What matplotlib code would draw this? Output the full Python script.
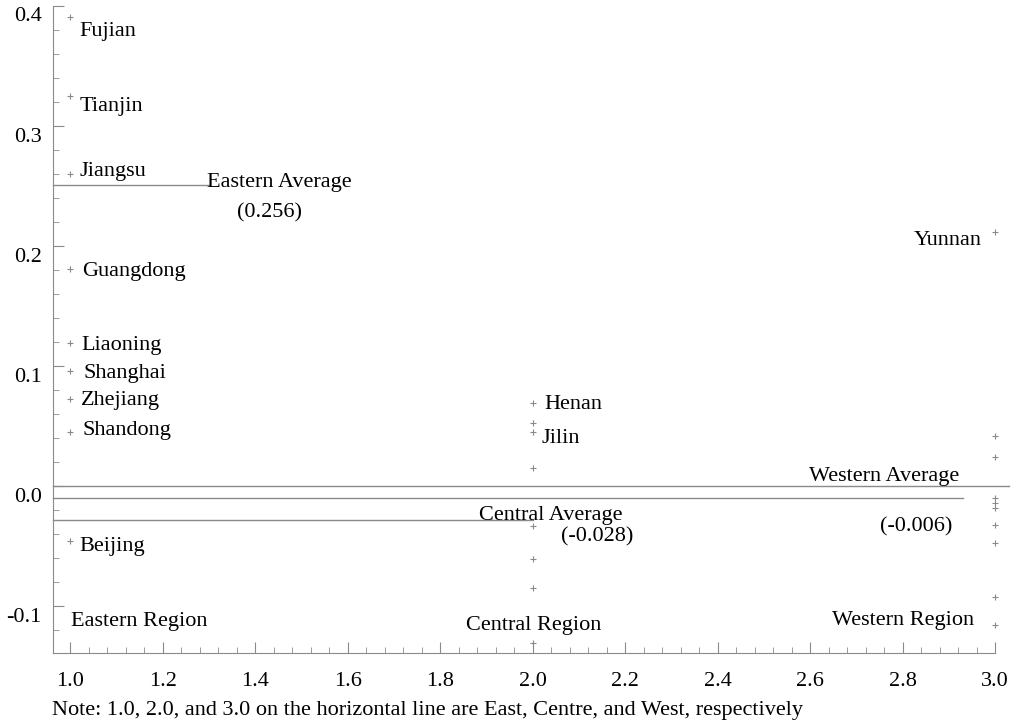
import numpy as np
import matplotlib
matplotlib.use("Agg")
import matplotlib.pyplot as plt
import matplotlib.transforms as mtransforms
from matplotlib.ticker import MultipleLocator

plt.rcParams["font.family"] = ["Liberation Serif", "DejaVu Serif"]

# region code: 1 = East, 2 = Centre, 3 = West
east_y = [0.391, 0.325, 0.260, 0.181, 0.119, 0.096, 0.0725, 0.045, -0.046]
central_y = [0.069, 0.0525, 0.045, 0.015, -0.033, -0.061, -0.085, -0.131]
west_y = [0.212, 0.0417, 0.024, -0.010, -0.014, -0.018, -0.032, -0.0475, -0.0925, -0.116]

east_names = ["Fujian", "Tianjin", "Jiangsu", "Guangdong", "Liaoning",
              "Shanghai", "Zhejiang", "Shandong", "Beijing"]
east_label_y = [0.379, 0.316, 0.2625, 0.179, 0.1175, 0.094, 0.0717, 0.0467, -0.050]
east_label_x = [1.02, 1.02, 1.02, 1.026, 1.024, 1.028, 1.024, 1.026, 1.02]

# average lines: (value, x start, x end)
avg_lines = [(0.251, 0.963, 1.30), (0.0, 0.963, 3.03), (-0.010, 0.963, 2.93), (-0.028, 0.963, 2.0)]

fig = plt.figure(figsize=(10.17, 7.22), dpi=100)
ax = fig.add_axes([0.0521, 0.0956, 0.9265, 0.8961])

gray = "#8a8a8a"
mk = dict(marker="+", linestyle="none", color=gray, markersize=5, markeredgewidth=0.8)
ax.plot([1.0] * len(east_y), east_y, **mk, clip_on=False)
ax.plot([2.0] * len(central_y), central_y, **mk, clip_on=False)
ax.plot([3.0] * len(west_y), west_y, **mk, clip_on=False)

for v, x0, x1 in avg_lines:
    ax.plot([x0, x1], [v, v], color=gray, lw=1.0, clip_on=False)

fs = 16
for name, x, y in zip(east_names, east_label_x, east_label_y):
    ax.text(x, y, name, fontsize=fs, ha="left", va="center")

ax.text(1.297, 0.253, "Eastern Average", fontsize=fs, ha="left", va="center")
ax.text(1.431, 0.2275, "(0.256)", fontsize=fs, ha="center", va="center")
ax.text(1.003, -0.113, "Eastern Region", fontsize=fs, ha="left", va="center")

ax.text(2.025, 0.068, "Henan", fontsize=fs, ha="left", va="center")
ax.text(2.02, 0.040, "Jilin", fontsize=fs, ha="left", va="center")
ax.text(2.04, -0.0245, "Central Average", fontsize=fs, ha="center", va="center")
ax.text(2.14, -0.0425, "(-0.028)", fontsize=fs, ha="center", va="center")
ax.text(2.003, -0.116, "Central Region", fontsize=fs, ha="center", va="center")

ax.text(2.97, 0.205, "Yunnan", fontsize=fs, ha="right", va="center")
ax.text(2.76, 0.0083, "Western Average", fontsize=fs, ha="center", va="center")
ax.text(2.83, -0.034, "(-0.006)", fontsize=fs, ha="center", va="center")
ax.text(2.80, -0.112, "Western Region", fontsize=fs, ha="center", va="center")

ax.set_xlim(0.963, 3.0)
ax.set_ylim(-0.139, 0.4)
ax.spines["top"].set_visible(False)
ax.spines["right"].set_visible(False)
for s in ["left", "bottom"]:
    ax.spines[s].set_color(gray)

ax.xaxis.set_minor_locator(MultipleLocator(0.04))
ax.yaxis.set_minor_locator(MultipleLocator(0.02))
ax.set_xticks(np.arange(1.0, 3.01, 0.2))
ax.set_yticks([-0.1, 0.0, 0.1, 0.2, 0.3, 0.4])
ax.set_yticklabels(["-0.1", "0.0", "0.1", "0.2", "0.3", "0.4"])
ax.tick_params(axis="both", which="major", direction="in", length=8, color=gray,
               labelsize=fs)
ax.tick_params(axis="both", which="minor", direction="in", length=4, color=gray)
ax.tick_params(axis="x", which="major", pad=14)
ax.tick_params(axis="y", which="major", pad=8)

off = mtransforms.ScaledTranslation(0, -8.5 / 100, fig.dpi_scale_trans)
for lab in ax.get_yticklabels():
    lab.set_transform(lab.get_transform() + off)

fig.text(52 / 1017, 1 - 710 / 722, "Note: 1.0, 2.0, and 3.0 on the horizontal line are East, Centre, and West, respectively",
         fontsize=fs, ha="left", va="center")

fig.savefig("out.png", dpi=100)
